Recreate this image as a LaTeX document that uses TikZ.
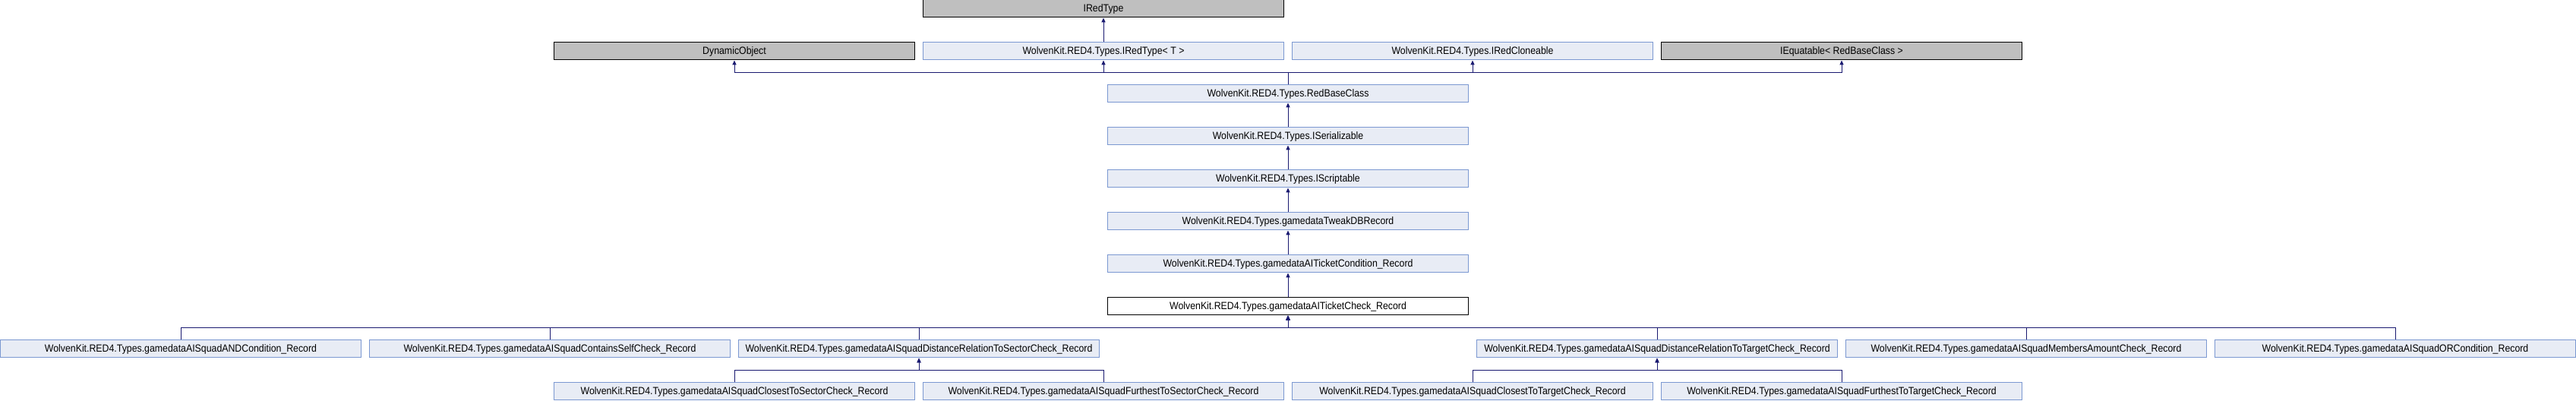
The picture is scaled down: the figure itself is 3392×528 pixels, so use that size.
\documentclass[tikz,border=0pt]{standalone}
\usepackage{fontspec}
\setmainfont[FakeStretch=0.9]{Liberation Sans}
\usetikzlibrary{arrows.meta}
\definecolor{edgec}{HTML}{191970}
\definecolor{boxfill}{HTML}{E8ECF5}
\definecolor{boxdraw}{HTML}{7B98D1}
\definecolor{extfill}{HTML}{BFBFBF}
\tikzset{
  cls/.style={draw=boxdraw, fill=boxfill, line width=0.5pt, minimum width=237.5pt, minimum height=11.5pt, inner sep=0pt, font=\fontsize{6.85}{8}\selectfont},
  ext/.style={cls, draw=black, fill=extfill},
  cur/.style={cls, draw=black, fill=white},
  edge/.style={draw=edgec, line width=0.5pt, -{Triangle[length=3pt,width=2.6pt]}},
}
\begin{document}
\begin{tikzpicture}[x=0.5pt,y=-0.5pt]
\useasboundingbox (0,0) rectangle (3392,528);
% row 0
\node[ext] (irt) at (1453,11.5) {IRedType};
% row 1
\node[ext] (dyn) at (967,67.5) {DynamicObject};
\node[cls] (irtT) at (1453,67.5) {WolvenKit.RED4.Types.IRedType< T >};
\node[cls] (clone) at (1939,67.5) {WolvenKit.RED4.Types.IRedCloneable};
\node[ext] (equat) at (2425,67.5) {IEquatable< RedBaseClass >};
% chain
\node[cls] (rbc) at (1696,123.5) {WolvenKit.RED4.Types.RedBaseClass};
\node[cls] (ser) at (1696,179.5) {WolvenKit.RED4.Types.ISerializable};
\node[cls] (scr) at (1696,235.5) {WolvenKit.RED4.Types.IScriptable};
\node[cls] (tdb) at (1696,291.5) {WolvenKit.RED4.Types.gamedataTweakDBRecord};
\node[cls] (tcond) at (1696,347.5) {WolvenKit.RED4.Types.gamedataAITicketCondition\_Record};
\node[cur] (tcheck) at (1696,403.5) {WolvenKit.RED4.Types.gamedataAITicketCheck\_Record};
% row 8
\node[cls] (andc) at (238,459.5) {WolvenKit.RED4.Types.gamedataAISquadANDCondition\_Record};
\node[cls] (cself) at (724,459.5) {WolvenKit.RED4.Types.gamedataAISquadContainsSelfCheck\_Record};
\node[cls] (dsec) at (1210,459.5) {WolvenKit.RED4.Types.gamedataAISquadDistanceRelationToSectorCheck\_Record};
\node[cls] (dtgt) at (2182,459.5) {WolvenKit.RED4.Types.gamedataAISquadDistanceRelationToTargetCheck\_Record};
\node[cls] (mem) at (2668,459.5) {WolvenKit.RED4.Types.gamedataAISquadMembersAmountCheck\_Record};
\node[cls] (orc) at (3154,459.5) {WolvenKit.RED4.Types.gamedataAISquadORCondition\_Record};
% row 9
\node[cls] (csec) at (967,515.5) {WolvenKit.RED4.Types.gamedataAISquadClosestToSectorCheck\_Record};
\node[cls] (fsec) at (1453,515.5) {WolvenKit.RED4.Types.gamedataAISquadFurthestToSectorCheck\_Record};
\node[cls] (ctgt) at (1939,515.5) {WolvenKit.RED4.Types.gamedataAISquadClosestToTargetCheck\_Record};
\node[cls] (ftgt) at (2425,515.5) {WolvenKit.RED4.Types.gamedataAISquadFurthestToTargetCheck\_Record};
% junction levels
\coordinate (y1) at (0,96);
\coordinate (y2) at (0,432);
\coordinate (y3) at (0,488);
% edges
\draw[edge] (irtT.north) -- (irt.south);
\foreach \p in {dyn,irtT,clone,equat}
  \draw[edge] (rbc.north) |- (\p.south |- y1) -- (\p.south);
\draw[edge] (ser.north) -- (rbc.south);
\draw[edge] (scr.north) -- (ser.south);
\draw[edge] (tdb.north) -- (scr.south);
\draw[edge] (tcond.north) -- (tdb.south);
\draw[edge] (tcheck.north) -- (tcond.south);
\foreach \c in {andc,cself,dsec,dtgt,mem,orc}
  \draw[edge] (\c.north) |- (tcheck.south |- y2) -- (tcheck.south);
\foreach \c in {csec,fsec}
  \draw[edge] (\c.north) |- (dsec.south |- y3) -- (dsec.south);
\foreach \c in {ctgt,ftgt}
  \draw[edge] (\c.north) |- (dtgt.south |- y3) -- (dtgt.south);
\end{tikzpicture}
\end{document}
